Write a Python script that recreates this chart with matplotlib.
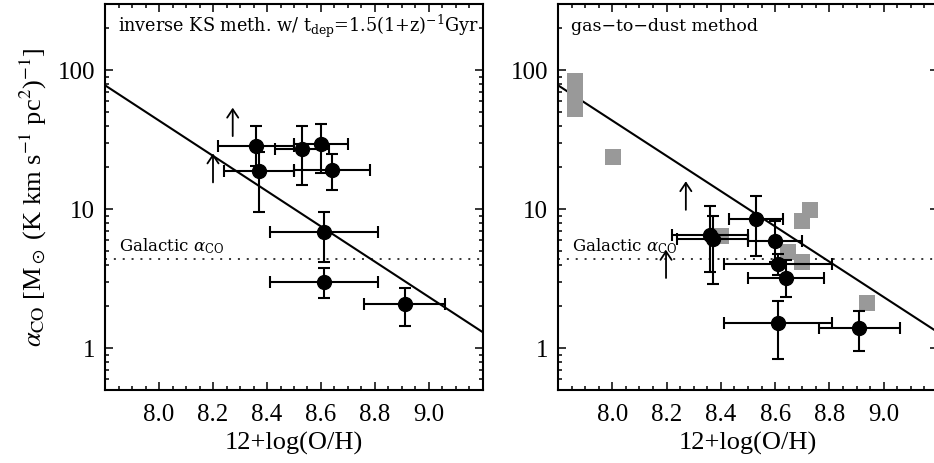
import numpy as np
import matplotlib
matplotlib.use('Agg')
import matplotlib.pyplot as plt
from matplotlib.ticker import FixedLocator, NullFormatter

# ------------------------- Data ------------------------- #
# Metallicity and its error for each galaxy (same galaxies in both panels)
oh = [8.36, 8.37, 8.53, 8.60, 8.64, 8.61, 8.61, 8.91]
oh_err = [0.14, 0.13, 0.10, 0.10, 0.14, 0.20, 0.20, 0.15]

# Left panel: inverse KS method alpha_CO with lower / upper error ends
ks_alpha = [28.4, 19.0, 27.3, 29.7, 19.3, 6.85, 3.01, 2.07]
ks_lo = [20.5, 9.6, 15.0, 18.3, 13.8, 4.2, 2.28, 1.45]
ks_hi = [39.6, 26.0, 39.6, 40.8, 24.8, 9.6, 3.76, 2.72]

# Right panel: gas-to-dust method alpha_CO with lower / upper error ends
gd_alpha = [6.55, 6.1, 8.5, 5.86, 3.19, 4.02, 1.51, 1.40]
gd_lo = [3.56, 2.9, 4.6, 4.2, 2.35, 3.35, 0.84, 0.96]
gd_hi = [10.5, 8.87, 12.4, 8.2, 4.3, 4.8, 2.2, 1.85]

# Grey squares (local galaxies) in the right panel
grey_oh = [7.863, 7.863, 7.863, 7.863, 8.002, 8.399, 8.698, 8.727, 8.649, 8.698, 8.94]
grey_alpha = [84, 70, 60, 53, 23.7, 6.46, 8.28, 9.8, 4.95, 4.14, 2.10]

# Lower limits (arrows): x, start, end
ks_lim_oh = [8.273, 8.20]
ks_lim_from = [33.6, 15.6]
ks_lim_to = [53.8, 25.2]
gd_lim_oh = [8.271, 8.198]
gd_lim_from = [9.9, 3.2]
gd_lim_to = [15.9, 5.1]

# Fitted relation (end points) and the Galactic value
fit_oh = [7.8, 9.2]
fit_alpha = [78.0, 1.30]
galactic_alpha = 4.36

# ----------------------------- Plot settings ------------------------------ #
TIMES = 'Liberation Serif'
WIDE = 'DejaVu Serif'
plt.rcParams['font.family'] = TIMES
plt.rcParams['mathtext.fontset'] = 'stix'

fig = plt.figure(figsize=(9.34, 4.63), dpi=100)
ax_l = fig.add_axes([105/934, 73/463, 378/934, 386/463])
ax_r = fig.add_axes([558/934, 73/463, 380/934, 386/463])


def setup_axes(ax, label, label_size):
    ax.set_yscale('log')
    ax.set_xlim(7.8, 9.2)
    ax.set_ylim(0.5, 300)
    ax.xaxis.set_major_locator(FixedLocator([8.0, 8.2, 8.4, 8.6, 8.8, 9.0]))
    ax.xaxis.set_minor_locator(FixedLocator(np.arange(7.8, 9.21, 0.05)))
    ax.set_xticklabels(['8.0', '8.2', '8.4', '8.6', '8.8', '9.0'],
                       fontfamily=TIMES, fontsize=18)
    ax.yaxis.set_major_locator(FixedLocator([1, 10, 100]))
    ax.set_yticklabels(['1', '10', '100'], fontfamily=TIMES, fontsize=18)
    minors = [m * d for d in [0.1, 1, 10, 100] for m in range(2, 10)]
    ax.yaxis.set_minor_locator(FixedLocator(minors))
    ax.yaxis.set_minor_formatter(NullFormatter())
    ax.tick_params(which='both', direction='in', top=True, right=True, width=1.1)
    ax.tick_params(which='major', length=5.5)
    ax.tick_params(which='minor', length=2.8)
    ax.tick_params(axis='x', pad=10)
    ax.tick_params(axis='y', pad=7)
    for s in ax.spines.values():
        s.set_linewidth(1.5)
    ax.set_xlabel('12+log(O/H)', fontsize=19, fontfamily=TIMES, labelpad=4)
    # Reference lines
    ax.plot(fit_oh, fit_alpha, 'k-', lw=1.5)
    ax.axhline(galactic_alpha, color='k', lw=1.1, ls=(0, (1.3, 4.5)))
    ax.text(7.85, 5.45, r'Galactic $\alpha_{\rm CO}$', fontsize=12,
            va='center', fontfamily=WIDE, math_fontfamily='dejavuserif')
    ax.text(0.034, 0.943, label, transform=ax.transAxes, fontsize=label_size,
            va='center', fontfamily=WIDE, math_fontfamily='dejavuserif')


def draw_points(ax, y, lo, hi):
    yerr = [np.array(y) - np.array(lo), np.array(hi) - np.array(y)]
    ax.errorbar(oh, y, xerr=oh_err, yerr=yerr, fmt='o', color='k', ms=10,
                elinewidth=1.5, capsize=4, capthick=1.5, zorder=4)


def draw_limits(ax, xs, y0, y1):
    for x, a, b in zip(xs, y0, y1):
        ax.annotate('', xy=(x, b), xytext=(x, a),
                    arrowprops=dict(arrowstyle='->,head_length=0.6,head_width=0.4',
                                    lw=1.3, color='k', shrinkA=0, shrinkB=0))


# Left panel
setup_axes(ax_l, r'inverse KS meth. w/ t$_{\rm dep}$=1.5(1+z)$^{-1}$Gyr', 12.7)
draw_points(ax_l, ks_alpha, ks_lo, ks_hi)
draw_limits(ax_l, ks_lim_oh, ks_lim_from, ks_lim_to)
ax_l.set_ylabel(r'$\alpha_{\rm CO}$ [M$_\odot$ (K km s$^{-1}$ pc$^2$)$^{-1}$]',
                fontsize=19, fontfamily=TIMES, labelpad=6)

# Right panel
setup_axes(ax_r, 'gas\u2212to\u2212dust method', 12.5)
ax_r.plot(grey_oh, grey_alpha, 's', color='#999999', ms=11, mew=0, zorder=3)
draw_points(ax_r, gd_alpha, gd_lo, gd_hi)
draw_limits(ax_r, gd_lim_oh, gd_lim_from, gd_lim_to)

plt.savefig('out.png', dpi=100)
